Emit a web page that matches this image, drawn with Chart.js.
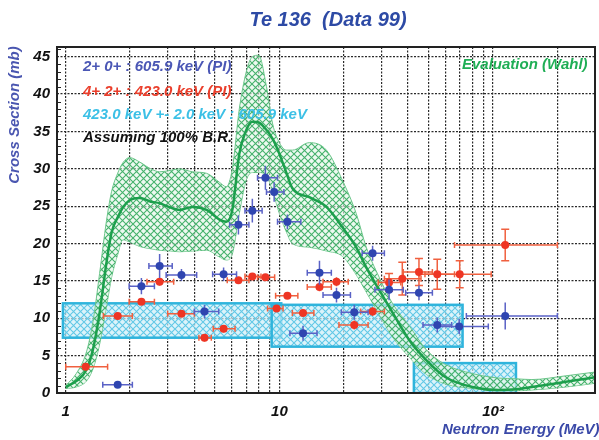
<!DOCTYPE html>
<html>
<head>
<meta charset="utf-8">
<title>Te 136 (Data 99)</title>
<script src="https://cdn.jsdelivr.net/npm/chart.js@4.4.1/dist/chart.umd.min.js"></script>
<style>
  html, body { margin: 0; padding: 0; background: #fff; }
  #chart { display: block; }
</style>
</head>
<body>
<canvas id="chart" width="599" height="440"></canvas>
<script>
// 2+ 0+ : 605.9 keV (PI)  -- energy (MeV), cross section (mb), energy range, sigma error
const blueE   = [1.75, 2.26, 2.75, 3.48, 4.46, 5.48, 6.43, 7.47, 8.6, 9.45, 10.9, 12.9, 15.4, 18.5, 22.4, 27.3, 32.6, 45, 54.8, 69.4, 114];
const blueS   = [1.1, 14.3, 17.0, 15.8, 10.9, 15.9, 22.5, 24.4, 28.8, 26.9, 22.9, 8.0, 16.1, 13.1, 10.8, 18.7, 13.8, 13.4, 9.1, 8.9, 10.3];
const blueElo = [1.49, 1.98, 2.45, 2.95, 4.0, 4.87, 5.85, 6.9, 7.9, 8.7, 9.8, 11.2, 13.5, 16, 19.5, 24.4, 28, 39, 47, 55, 75];
const blueEhi = [2.05, 2.6, 3.15, 4.1, 5.2, 6.3, 7.2, 8.3, 9.8, 10.5, 12.6, 15, 17.5, 21.5, 26, 31, 38, 52, 64, 95, 200];
const blueErr = [0.4, 1.1, 1.6, 0.8, 0.9, 0.9, 1.3, 1.6, 1.6, 1.3, 1.0, 1.0, 1.6, 1.0, 1.0, 1.0, 1.4, 1.0, 1.0, 1.0, 1.8];

// 4+ 2+ : 423.0 keV (PI)
const redE   = [1.24, 1.75, 2.26, 2.75, 3.48, 4.46, 5.48, 6.43, 7.47, 8.6, 9.7, 10.9, 12.9, 15.4, 18.5, 22.4, 27.3, 32.6, 37.6, 45, 54.8, 69.8, 114];
const redS   = [3.5, 10.3, 12.2, 14.9, 10.6, 7.4, 8.6, 15.1, 15.6, 15.5, 11.3, 13.0, 10.7, 14.2, 14.9, 9.1, 10.9, 14.8, 15.3, 16.2, 15.9, 15.9, 19.8];
const redElo = [1.0, 1.5, 1.98, 2.4, 3.0, 4.2, 4.9, 5.7, 6.9, 7.9, 8.8, 9.6, 11.5, 13.5, 16, 19, 24, 29, 31, 38, 45, 48, 66];
const redEhi = [1.57, 2.05, 2.6, 3.2, 4.0, 4.8, 6.2, 7.2, 8.2, 9.5, 10.4, 12.2, 14.5, 17.5, 21, 26, 31, 37, 46, 52, 66, 98, 200];
const redErr = [0.3, 0.4, 0.4, 0.5, 0.4, 0.5, 0.5, 0.4, 0.4, 0.4, 0.4, 0.4, 0.4, 0.6, 0.6, 0.6, 0.6, 1.2, 2.2, 1.8, 2.0, 1.8, 2.1];

// 423.0 keV +- 2.0 keV : 605.9 keV  (boxes: energy range x cross section range)
const boxElo = [0.97, 9.2, 42.6];
const boxEhi = [10.2, 72, 128];
const boxSlo = [7.4, 6.2, 0];
const boxShi = [12.0, 11.8, 4.0];

// Evaluation (Wahl): central curve and uncertainty band
const evalE   = [1, 1.12, 1.25, 1.34, 1.44, 1.55, 1.64, 1.75, 1.85, 1.99, 2.22, 2.5, 2.75, 3.1, 3.41, 3.92, 4.56, 5.24, 5.64, 6.02, 6.49, 7.0, 7.47, 8.0, 8.7, 9.3, 10, 10.8, 11.5, 13.8, 16.6, 19.7, 22.9, 25.5, 29.3, 33.8, 40.5, 48.7, 60, 80, 106, 128, 152, 219, 300];
const evalMid = [0.8, 1.6, 3.1, 5.8, 10.7, 17.4, 21.5, 23.5, 24.8, 25.8, 26.1, 25.6, 25.4, 24.8, 24.5, 24.9, 24.5, 23.2, 22.9, 24.5, 32.0, 35.2, 36.3, 36.2, 35.2, 34.0, 32.0, 29.4, 27.4, 26.2, 24.9, 22.2, 19.5, 16.8, 13.8, 10.8, 7.1, 4.4, 2.1, 0.8, 0.4, 0.5, 0.8, 1.5, 2.1];
const evalHi  = [1.0, 2.6, 5.5, 9.5, 16, 23, 27, 29.4, 30.8, 31.5, 30.9, 30.0, 29.6, 29.8, 30.0, 29.6, 29.4, 28.2, 27.6, 30, 38, 43, 45, 45.2, 41, 36, 33.5, 32.5, 32.5, 33.5, 32.5, 28.5, 24, 19.5, 15.5, 12, 9, 5.8, 3.8, 2.6, 2.0, 1.9, 1.8, 2.3, 2.8];
const evalLo  = [0.6, 0.8, 1.6, 3.2, 6.5, 11.5, 15.5, 18.5, 20.5, 20.2, 19.6, 19.3, 19.1, 19.0, 18.9, 19.0, 19.1, 18.2, 17.8, 18.6, 24, 28.5, 29.5, 29.5, 29, 27, 24, 21.5, 20, 19.5, 19, 18.3, 15.8, 13.5, 10.5, 7.5, 4.8, 2.5, 1.2, 0.6, 0.3, 0.3, 0.4, 0.8, 1.3];

// axes
const xMin = 0.91, xMax = 300;
const yMin = 0, yMax = 46.3;
const xGrid = [1, 2, 3, 4, 5, 6, 7, 8, 9, 10, 20, 30, 40, 50, 60, 70, 80, 90, 100, 200];
const xLabels = { 1: '1', 10: '10', 100: '10²' };
const yGrid = [0, 5, 10, 15, 20, 25, 30, 35, 40, 45];

const toXY = (xs, ys) => xs.map((x, i) => ({ x: x, y: ys[i] }));

// cross hatch fill
function hatch(line, bg, size) {
  const c = document.createElement('canvas');
  c.width = size; c.height = size;
  const g = c.getContext('2d');
  g.fillStyle = bg;
  g.fillRect(0, 0, size, size);
  g.strokeStyle = line;
  g.lineWidth = 1.1;
  g.beginPath();
  g.moveTo(0, 0); g.lineTo(size, size);
  g.moveTo(size, 0); g.lineTo(0, size);
  g.stroke();
  return g.createPattern(c, 'repeat');
}
const greenHatch = hatch('#45b26c', 'rgba(225,245,230,0.6)', 7);
const cyanHatch = hatch('#62c8e6', 'rgba(205,238,248,0.7)', 7);

const font = (size) => ({ family: 'Liberation Sans, Arial, sans-serif', size: size, weight: 'bold', style: 'italic' });

const errSets = {
  0: { E: blueE, S: blueS, lo: blueElo, hi: blueEhi, err: blueErr, color: '#5a62c6', caps: false },
  1: { E: redE, S: redS, lo: redElo, hi: redEhi, err: redErr, color: '#f0603f', caps: true }
};

// error bars, drawn just below their own points
const errorBars = {
  id: 'errorBars',
  beforeDatasetDraw(chart, args) {
    const set = errSets[args.index];
    if (!set) return;
    const { ctx, chartArea: a, scales: { x, y } } = chart;
    ctx.save();
    ctx.beginPath();
    ctx.rect(a.left, a.top, a.right - a.left, a.bottom - a.top);
    ctx.clip();
    ctx.strokeStyle = set.color;
    ctx.lineWidth = 1.5;
    set.E.forEach((e, i) => {
      const px = x.getPixelForValue(e);
      const py = y.getPixelForValue(set.S[i]);
      const x0 = x.getPixelForValue(set.lo[i]);
      const x1 = x.getPixelForValue(set.hi[i]);
      const y0 = y.getPixelForValue(set.S[i] - set.err[i]);
      const y1 = y.getPixelForValue(set.S[i] + set.err[i]);
      ctx.beginPath();
      ctx.moveTo(x0, py); ctx.lineTo(x1, py);
      ctx.moveTo(px, y0); ctx.lineTo(px, y1);
      // small end marks on horizontal bars
      ctx.moveTo(x0, py - 3); ctx.lineTo(x0, py + 3);
      ctx.moveTo(x1, py - 3); ctx.lineTo(x1, py + 3);
      if (set.caps && set.err[i] > 1) {
        ctx.moveTo(px - 4, y0); ctx.lineTo(px + 4, y0);
        ctx.moveTo(px - 4, y1); ctx.lineTo(px + 4, y1);
      }
      ctx.stroke();
    });
    ctx.restore();
  }
};

// cyan boxes under everything
const boxes = {
  id: 'boxes',
  beforeDatasetsDraw(chart) {
    const { ctx, chartArea: a, scales: { x, y } } = chart;
    ctx.save();
    ctx.beginPath();
    ctx.rect(a.left, a.top, a.right - a.left, a.bottom - a.top);
    ctx.clip();
    boxElo.forEach((e0, i) => {
      const l = x.getPixelForValue(e0), r = x.getPixelForValue(boxEhi[i]);
      const t = y.getPixelForValue(boxShi[i]), b = y.getPixelForValue(boxSlo[i]);
      ctx.fillStyle = cyanHatch;
      ctx.fillRect(l, t, r - l, b - t);
      ctx.strokeStyle = '#2fb4dc';
      ctx.lineWidth = 2.5;
      ctx.strokeRect(l, t, r - l, b - t);
    });
    ctx.restore();
  }
};

// frame, minor ticks and all the texts
const decor = {
  id: 'decor',
  afterDraw(chart) {
    const { ctx, chartArea: a, scales: { y } } = chart;
    ctx.save();
    ctx.strokeStyle = '#222';
    ctx.lineWidth = 1.2;
    ctx.beginPath();
    for (let v = 1; v < yMax; v++) {
      if (v % 5 === 0) continue;
      const py = Math.round(y.getPixelForValue(v)) + 0.5;
      ctx.moveTo(a.left, py); ctx.lineTo(a.left + 4, py);
    }
    ctx.stroke();
    ctx.lineWidth = 2;
    ctx.strokeRect(a.left, a.top, a.right - a.left, a.bottom - a.top);

    ctx.textBaseline = 'middle';
    ctx.font = 'italic bold 20px "Liberation Sans", Arial, sans-serif';
    ctx.fillStyle = '#2d4aa5';
    ctx.textAlign = 'center';
    ctx.fillText('Te 136  (Data 99)', 328, 20);

    ctx.font = 'italic bold 15px "Liberation Sans", Arial, sans-serif';
    ctx.fillStyle = '#3a49a8';
    ctx.textAlign = 'left';
    ctx.fillText('Neutron Energy (MeV)', 442, 430);

    ctx.save();
    ctx.translate(15, 115);
    ctx.rotate(-Math.PI / 2);
    ctx.textAlign = 'center';
    ctx.fillStyle = '#4a56b0';
    ctx.fillText('Cross Section (mb)', 0, 0);
    ctx.restore();

    ctx.textAlign = 'left';
    ctx.fillStyle = '#4b57b5';
    ctx.fillText('2+ 0+ : 605.9 keV (PI)', 83, 67);
    ctx.fillStyle = '#ea3f2c';
    ctx.fillText('4+ 2+ : 423.0 keV (PI)', 83, 92);
    ctx.fillStyle = '#3cc0e6';
    ctx.fillText('423.0 keV +- 2.0 keV : 605.9 keV', 83, 115);
    ctx.fillStyle = '#111';
    ctx.fillText('Assuming 100% B.R.', 83, 138);
    ctx.fillStyle = '#1fae55';
    ctx.fillText('Evaluation (Wahl)', 462, 65);
    ctx.restore();
  }
};

new Chart(document.getElementById('chart'), {
  type: 'scatter',
  data: {
    datasets: [
      {
        label: '2+ 0+ : 605.9 keV (PI)',
        data: toXY(blueE, blueS),
        backgroundColor: '#2f45b0',
        borderColor: '#2f45b0',
        pointRadius: 4,
        borderWidth: 0
      },
      {
        label: '4+ 2+ : 423.0 keV (PI)',
        data: toXY(redE, redS),
        backgroundColor: '#ee3524',
        borderColor: '#ee3524',
        pointRadius: 4,
        borderWidth: 0
      },
      {
        label: 'Evaluation (Wahl)',
        data: toXY(evalE, evalMid),
        showLine: true,
        borderColor: '#1c9f4c',
        borderWidth: 2.5,
        pointRadius: 0,
        cubicInterpolationMode: 'monotone',
        fill: false
      },
      {
        label: 'upper',
        data: toXY(evalE, evalHi),
        showLine: true,
        borderColor: '#6cc58a',
        borderWidth: 1,
        backgroundColor: greenHatch,
        pointRadius: 0,
        cubicInterpolationMode: 'monotone',
        fill: '+1'
      },
      {
        label: 'lower',
        data: toXY(evalE, evalLo),
        showLine: true,
        borderColor: '#6cc58a',
        borderWidth: 1,
        pointRadius: 0,
        cubicInterpolationMode: 'monotone',
        fill: false
      }
    ]
  },
  options: {
    responsive: false,
    animation: false,
    layout: { padding: { top: 47, right: 3, left: 0, bottom: 0 } },
    plugins: {
      legend: { display: false },
      tooltip: { enabled: false },
      title: { display: false }
    },
    scales: {
      x: {
        type: 'logarithmic',
        min: xMin,
        max: xMax,
        afterBuildTicks: (s) => { s.ticks = xGrid.map(v => ({ value: v })); },
        afterFit: (s) => { s.height = 47; },
        grid: { color: '#2a2a2a', lineWidth: 1.2, drawTicks: false },
        border: { display: false, dash: [2, 1.5] },
        ticks: {
          autoSkip: false,
          maxRotation: 0,
          padding: 10,
          color: '#111',
          font: font(15),
          callback: (v) => xLabels[v] || ''
        }
      },
      y: {
        min: yMin,
        max: yMax,
        afterBuildTicks: (s) => { s.ticks = yGrid.map(v => ({ value: v })); },
        afterFit: (s) => { s.width = 57; },
        grid: { color: '#2a2a2a', lineWidth: 1.2, drawTicks: false },
        border: { display: false, dash: [2, 1.5] },
        ticks: {
          padding: 7,
          color: '#111',
          font: font(15)
        }
      }
    }
  },
  plugins: [boxes, errorBars, decor]
});
</script>
</body>
</html>
